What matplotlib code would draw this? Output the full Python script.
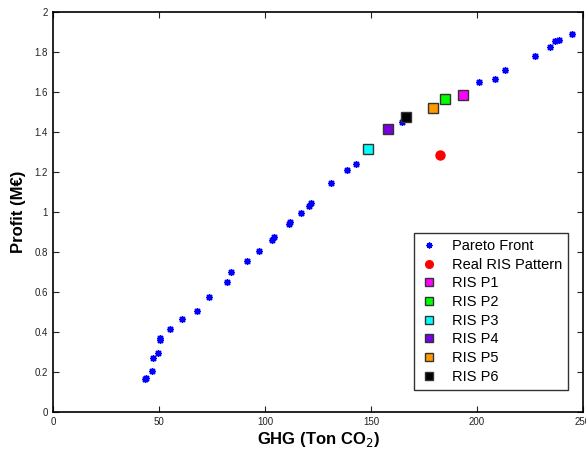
import matplotlib.pyplot as plt

plt.rcParams['font.family'] = ['Liberation Sans', 'DejaVu Sans']

# Pareto front (GHG in Ton CO2, profit in M€)
pareto_ghg = [43.5, 44.0, 46.9, 47.4, 49.6, 50.3, 50.6, 55.1, 60.8, 68.1, 73.6,
              81.9, 84.0, 91.5, 97.0, 103.3, 104.4, 111.3, 112.0, 117.0, 120.7,
              121.8, 131.2, 138.6, 142.7, 164.5, 200.8, 208.6, 213.0, 227.5,
              234.2, 236.8, 238.5, 244.9]
pareto_profit = [0.165, 0.17, 0.207, 0.268, 0.293, 0.36, 0.368, 0.415, 0.465,
                 0.507, 0.575, 0.648, 0.698, 0.755, 0.803, 0.86, 0.873, 0.942,
                 0.95, 0.993, 1.032, 1.043, 1.143, 1.208, 1.238, 1.452, 1.65,
                 1.663, 1.712, 1.782, 1.827, 1.853, 1.858, 1.888]

real_ghg, real_profit = 182.4, 1.285

ris_names = ["RIS P1", "RIS P2", "RIS P3", "RIS P4", "RIS P5", "RIS P6"]
ris_ghg = [193.3, 184.8, 148.6, 158.0, 179.1, 166.5]
ris_profit = [1.583, 1.563, 1.315, 1.413, 1.52, 1.475]
ris_colors = ["#ff00ff", "#00ff00", "#00ffff", "#7a00e0", "#ff9900", "#000000"]

fig = plt.figure(figsize=(5.86, 4.53), dpi=100)
ax = fig.add_axes([0.0904, 0.0905, 0.9046, 0.883])

ax.plot(pareto_ghg, pareto_profit, linestyle="none", marker=(8, 2, 0),
        markersize=5, color="blue", markeredgewidth=1.0, label="Pareto Front")
ax.plot(real_ghg, real_profit, linestyle="none", marker="o", markersize=6.5,
        color="red", label="Real RIS Pattern")
for name, g, p, c in zip(ris_names, ris_ghg, ris_profit, ris_colors):
    ax.plot(g, p, linestyle="none", marker="s", markersize=6.5,
            markerfacecolor=c, markeredgecolor="#333333", markeredgewidth=1.0,
            label=name)

ax.set_xlim(0, 250)
ax.set_ylim(0, 2)
ax.set_xticks([0, 50, 100, 150, 200, 250])
ax.set_yticks([0, 0.2, 0.4, 0.6, 0.8, 1, 1.2, 1.4, 1.6, 1.8, 2])
ax.set_yticklabels(["0", "0.2", "0.4", "0.6", "0.8", "1", "1.2", "1.4", "1.6", "1.8", "2"])
ax.tick_params(direction="in", top=True, right=True, labelsize=7, length=4,
               colors="#222222")
for s in ax.spines.values():
    s.set_linewidth(1.2)

ax.set_xlabel("GHG (Ton CO$_2$)", fontsize=12, fontweight="bold", labelpad=2)
ax.set_ylabel("Profit (M€)", fontsize=12, fontweight="bold", labelpad=6)

leg = ax.legend(loc="lower right", bbox_to_anchor=(0.986, 0.038), fontsize=10.5,
                frameon=True, fancybox=False, edgecolor="black",
                handlelength=1.2, handletextpad=1.0, borderpad=0.4,
                labelspacing=0.32, markerscale=0.85)
leg.get_frame().set_linewidth(1.0)

fig.savefig("out.png", dpi=100)
